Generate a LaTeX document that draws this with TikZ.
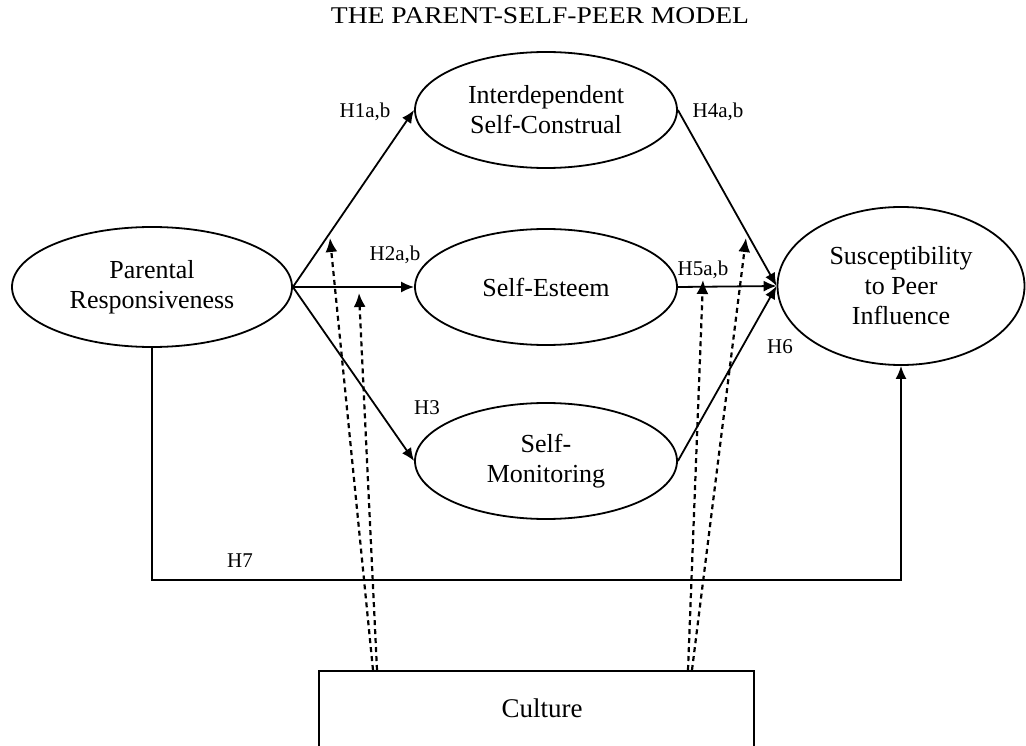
\documentclass[tikz,border=0pt]{standalone}
\usepackage{fontspec}
\setmainfont{Liberation Serif}
\usetikzlibrary{shapes.geometric,arrows.meta}
\begin{document}
\begin{tikzpicture}[x=1pt,y=-1pt,
  ell/.style={draw,ellipse,line width=1.8pt,inner sep=0pt,align=center,
    font=\fontsize{26}{30}\selectfont},
  arr/.style={line width=1.8pt,-{Latex[length=13pt,width=11pt]}},
  dsh/.style={line width=2.2pt,dash pattern=on 5pt off 4pt,
    -{Latex[length=14pt,width=12pt]}},
  lbl/.style={font=\fontsize{21}{24}\selectfont,inner sep=0pt},
  plain/.style={line width=1.8pt}]
\useasboundingbox (0,0) rectangle (1026,746);
\node[font=\fontsize{24}{28}\selectfont,inner sep=0pt] (title) at (540,16) {\scalebox{1.15}[1]{THE PARENT-SELF-PEER MODEL}};
\node[ell,minimum width=280pt,minimum height=120pt] (par) at (152,287) {Parental\\Responsiveness};
\node[ell,minimum width=262pt,minimum height=116pt] (ind) at (546,110) {Interdependent\\Self-Construal};
\node[ell,minimum width=262pt,minimum height=116pt] (est) at (546,287) {Self-Esteem};
\node[ell,minimum width=262pt,minimum height=116pt] (mon) at (546,461) {Self-\\Monitoring};
\node[ell,minimum width=247pt,minimum height=158pt] (sus) at (901,286) {Susceptibility\\to Peer\\Influence};
\begin{scope}
\clip (0,0) rectangle (1026,746);
\node[draw,line width=1.8pt,minimum width=435pt,minimum height=120pt,anchor=north west,inner sep=0pt] (cul) at (318,670) {};
\end{scope}
\node[font=\fontsize{27}{30}\selectfont,inner sep=0pt] (cultxt) at (542,708) {Culture};
% solid arrows
\draw[arr] (par.east) -- (ind.west);
\draw[arr] (par.east) -- (est.west);
\draw[arr] (par.east) -- (mon.west);
\draw[arr] (ind.east) -- (sus.west);
\draw[arr] (est.east) -- (sus.west);
\draw[arr] (mon.east) -- (sus.west);
\coordinate (h7y) at (0,580);
\draw[arr] (par.south) -- (par.south |- h7y) -| (sus.south);
% dashed moderators
\coordinate (c1) at (373,670);
\coordinate (c2) at (377,670);
\coordinate (c3) at (688,670);
\coordinate (c4) at (692,670);
\coordinate (t1) at (330,238);
\coordinate (t2) at (359,293);
\coordinate (t3) at (703,280);
\coordinate (t4) at (746,238);
\draw[dsh] (c1) -- (t1);
\draw[dsh] (c2) -- (t2);
\draw[dsh] (c3) -- (t3);
\draw[dsh] (c4) -- (t4);
% labels
\node[lbl] (l1) at (365,112) {H1a,b};
\node[lbl] (l4) at (718,112) {H4a,b};
\node[lbl] (l2) at (395,255) {H2a,b};
\node[lbl] (l5) at (703,270) {H5a,b};
\node[lbl] (l6) at (780,347) {H6};
\node[lbl] (l3) at (427,408) {H3};
\node[lbl] (l7) at (240,561) {H7};
\end{tikzpicture}
\end{document}
